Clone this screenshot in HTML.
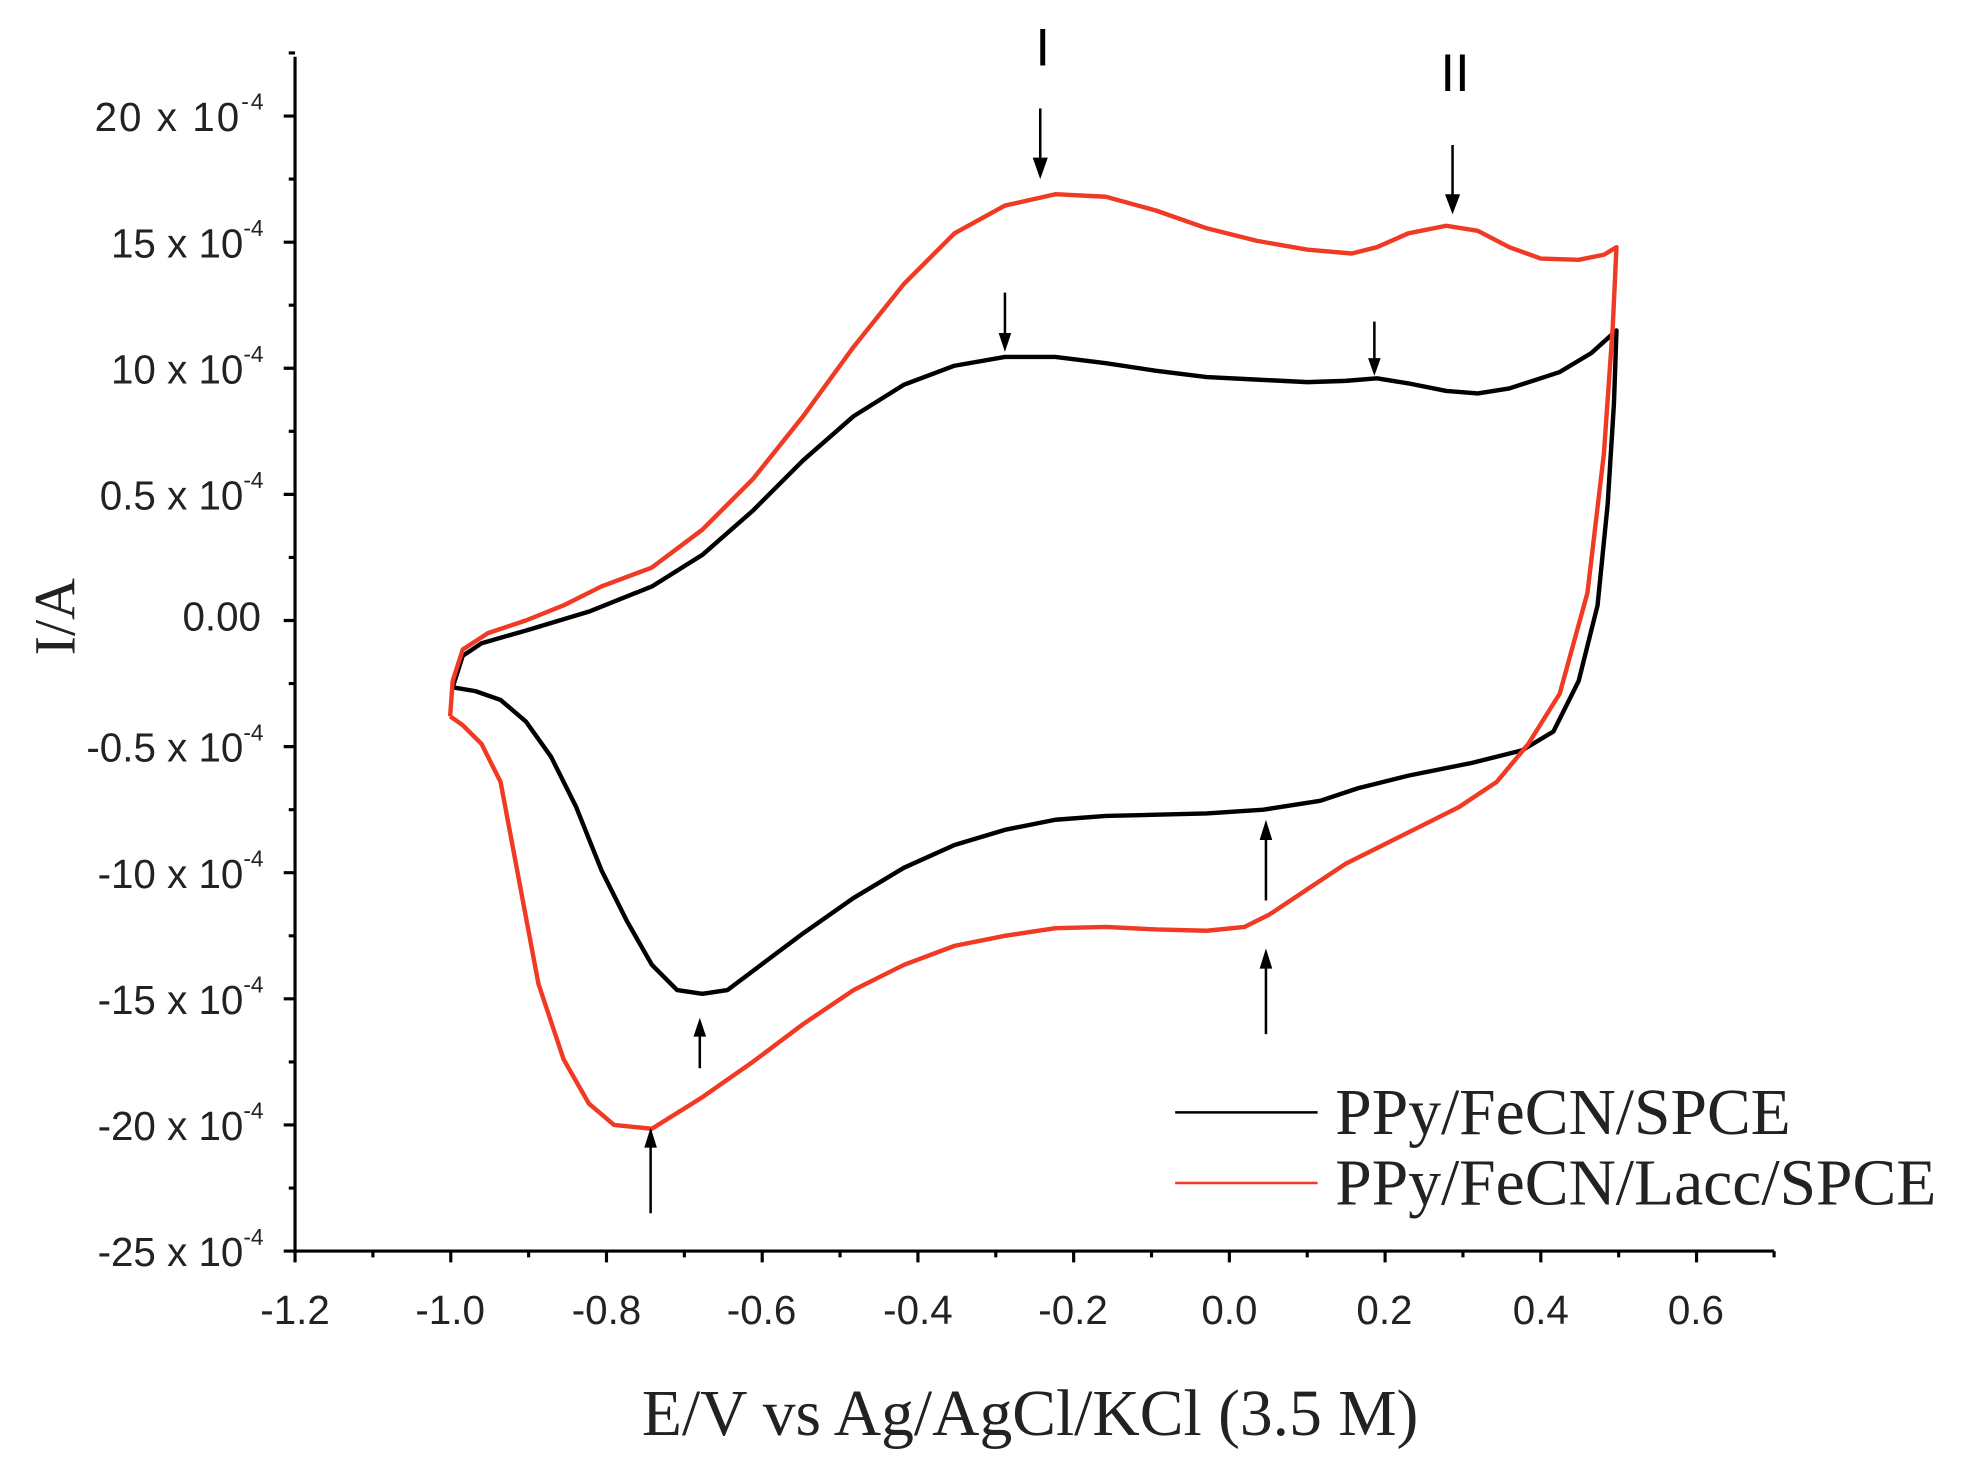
<!DOCTYPE html>
<html><head><style>html,body{margin:0;padding:0;background:#fff}svg{display:block}</style></head><body>
<svg width="1967" height="1468" viewBox="0 0 1560 1164" preserveAspectRatio="none" xmlns="http://www.w3.org/2000/svg">
<g transform="translate(-3,0)">
<g stroke="#000" stroke-width="2.5" fill="none">
<line x1="237" y1="45" x2="237" y2="993"/>
<line x1="236" y1="992" x2="1410" y2="992"/>
<path d="M237 92h-9M237 192h-9M237 292h-9M237 392h-9M237 492h-9M237 592h-9M237 692h-9M237 792h-9M237 892h-9M237 992h-9M237 42h-5M237 142h-5M237 242h-5M237 342h-5M237 442h-5M237 542h-5M237 642h-5M237 742h-5M237 842h-5M237 942h-5"/>
<path d="M237 992v9M360.5 992v9M484 992v9M607.5 992v9M731 992v9M854.5 992v9M978 992v9M1101.5 992v9M1225 992v9M1348.5 992v9M298.75 992v5M422.25 992v5M545.75 992v5M669.25 992v5M792.75 992v5M916.25 992v5M1039.75 992v5M1163.25 992v5M1286.75 992v5M1410 992v5"/>
</g>
<g font-family="Liberation Sans, sans-serif" font-size="32" fill="#222" text-anchor="end">
<text x="212" y="104" textLength="134">20 x 10<tspan font-size="18" dy="-17">-4</tspan></text>
<text x="212" y="204">15 x 10<tspan font-size="18" dy="-17">-4</tspan></text>
<text x="212" y="304">10 x 10<tspan font-size="18" dy="-17">-4</tspan></text>
<text x="212" y="404">0.5 x 10<tspan font-size="18" dy="-17">-4</tspan></text>
<text x="210" y="500">0.00</text>
<text x="212" y="604">-0.5 x 10<tspan font-size="18" dy="-17">-4</tspan></text>
<text x="212" y="704">-10 x 10<tspan font-size="18" dy="-17">-4</tspan></text>
<text x="212" y="804">-15 x 10<tspan font-size="18" dy="-17">-4</tspan></text>
<text x="212" y="904">-20 x 10<tspan font-size="18" dy="-17">-4</tspan></text>
<text x="212" y="1004">-25 x 10<tspan font-size="18" dy="-17">-4</tspan></text>
</g>
<g font-family="Liberation Sans, sans-serif" font-size="32" fill="#222" text-anchor="middle">
<text x="237" y="1050">-1.2</text><text x="360" y="1050">-1.0</text><text x="484" y="1050">-0.8</text><text x="607" y="1050">-0.6</text><text x="731" y="1050">-0.4</text><text x="854" y="1050">-0.2</text><text x="978" y="1050">0.0</text><text x="1101" y="1050">0.2</text><text x="1225" y="1050">0.4</text><text x="1348" y="1050">0.6</text>
</g>
<text x="820" y="1138" font-family="Liberation Serif, serif" font-size="52" text-anchor="middle" fill="#222">E/V vs Ag/AgCl/KCl (3.5 M)</text>
<text transform="translate(62,489) rotate(-90)" font-family="Liberation Serif, serif" font-size="46" text-anchor="middle" fill="#222">I/A</text>
<path fill="none" stroke="#000" stroke-width="3.5" stroke-linejoin="round" d="M362 545 L370 520 385 510 420 500 470 485 520 465 560 440 600 405 640 365 680 330 720 305 760 290 800 283 840 283 880 288 920 294 960 299 1000 301 1040 303 1070 302 1095 300 1120 304 1150 310 1175 312 1200 308 1240 295 1265 280 1285 262 1283 320 1278 400 1270 480 1255 540 1235 580 1210 595 1170 605 1120 615 1080 625 1050 635 1005 642 960 645 920 646 880 647 840 650 800 658 760 670 720 688 680 712 640 740 600 770 580 785 560 788 540 785 520 765 500 730 480 690 460 640 440 600 420 572 400 555 380 548 362 545"/>
<path fill="none" stroke="#f03a23" stroke-width="3.5" stroke-linejoin="round" d="M360 568 L362 540 370 515 390 502 420 492 450 480 480 465 520 450 560 420 600 380 640 330 680 275 720 225 760 185 800 163 840 154 880 156 920 167 960 181 1000 191 1040 198 1075 201 1095 196 1120 185 1150 179 1175 183 1200 196 1225 205 1255 206 1275 202 1285 196 1282 260 1275 360 1262 470 1240 550 1215 590 1190 620 1160 640 1130 655 1100 670 1070 685 1040 705 1010 725 990 735 960 738 920 737 880 735 840 736 800 742 760 750 720 765 680 785 640 812 600 842 560 870 520 895 490 892 470 875 450 840 430 780 415 700 400 620 385 590 370 575 360 568"/>
<g stroke="#000" stroke-width="2">
<line x1="828" y1="86" x2="828" y2="128"/><line x1="1155" y1="115" x2="1155" y2="157"/><line x1="800" y1="232" x2="800" y2="267"/><line x1="1093" y1="255" x2="1093" y2="287"/>
<line x1="558" y1="847" x2="558" y2="818"/><line x1="1007" y1="714" x2="1007" y2="662"/><line x1="1007" y1="820" x2="1007" y2="764"/><line x1="519" y1="962" x2="519" y2="906"/>
</g>
<g fill="#000">
<path d="M822 125 L834 125 828 142Z"/><path d="M1149 154 L1161 154 1155 170Z"/><path d="M795 264 L805 264 800 279Z"/><path d="M1088 284 L1098 284 1093 298Z"/>
<path d="M553 822 L563 822 558 807Z"/><path d="M1002 666 L1012 666 1007 650Z"/><path d="M1002 768 L1012 768 1007 752Z"/><path d="M514 910 L524 910 519 894Z"/>
</g>
<text x="830" y="52" font-family="Liberation Sans, sans-serif" font-size="42" text-anchor="middle">I</text>
<text x="1157" y="72" font-family="Liberation Sans, sans-serif" font-size="42" text-anchor="middle">II</text>
<line x1="935" y1="882" x2="1048" y2="882" stroke="#000" stroke-width="2"/>
<line x1="935" y1="938" x2="1048" y2="938" stroke="#f03a23" stroke-width="2"/>
<g font-family="Liberation Serif, serif" font-size="52" fill="#222">
<text x="1062" y="899">PPy/FeCN/SPCE</text>
<text x="1062" y="955">PPy/FeCN/Lacc/SPCE</text>
</g>
</g>
</svg>
</body></html>
